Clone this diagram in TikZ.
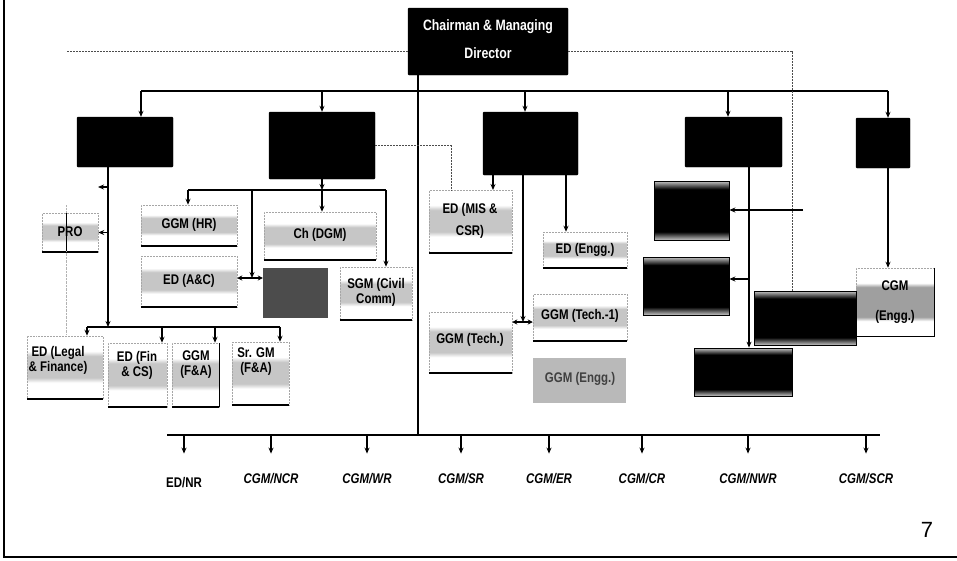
\documentclass[tikz,border=0pt]{standalone}
\usepackage{fontspec}
\setmainfont{Liberation Sans}
\newfontfamily\cf[FakeStretch=0.82]{Liberation Sans}
\usetikzlibrary{arrows.meta,calc}
\pgfdeclareverticalshading{grayband}{100bp}{color(0bp)=(white); color(38bp)=(white); color(42bp)=(gray!45); color(59bp)=(gray!45); color(63bp)=(white); color(100bp)=(white)}
\pgfdeclareverticalshading{blackband}{100bp}{color(0bp)=(gray!45); color(25bp)=(gray!45); color(32bp)=(black); color(68bp)=(black); color(75bp)=(gray!45); color(100bp)=(gray!45)}
\pgfdeclareverticalshading{cgmband}{100bp}{color(0bp)=(white); color(36bp)=(white); color(39bp)=(gray!75); color(61bp)=(gray!75); color(64bp)=(white); color(100bp)=(white)}
\tikzset{
 conn/.style={line width=1.3pt, black},
 arr/.style={conn, -{Stealth[length=6pt,width=5pt]}},
 darr/.style={conn, {Stealth[length=5pt,width=5pt]}-{Stealth[length=5pt,width=5pt]}},
 busline/.style={line width=1.8pt, black},
 dsh/.style={line width=0.6pt, gray!60!black, dash pattern=on 2pt off 1pt},
 tbox/.style={draw=gray!70, densely dotted, line width=0.5pt, shade, shading=grayband, inner sep=0pt},
 cbox/.style={draw=gray!70, densely dotted, line width=0.5pt, shade, shading=cgmband, inner sep=0pt},
 bbox/.style={fill=black, draw=black, inner sep=0pt, rounded corners=1pt},
 bandbox/.style={draw=black, line width=0.8pt, shade, shading=blackband, inner sep=0pt},
 mottle/.style={fill=gray!55, inner sep=0pt},
 darksq/.style={fill=black!70, inner sep=0pt},
 uline/.style={line width=2.4pt, black},
 lbl/.style={font=\cf\bfseries\fontsize{14}{15}\selectfont, align=center, inner sep=0pt, text=black},
 rlab/.style={font=\cf\bfseries\fontsize{14}{15}\selectfont, inner sep=1pt},
 rlabi/.style={font=\cf\bfseries\itshape\fontsize{14}{15}\selectfont, inner sep=1pt},
}
\newcommand\mkbox[6]{\node[#1, minimum width={(#5-#3)*1pt}, minimum height={(#6-#4)*1pt}] (#2) at ({(#3+#5)/2},{(#4+#6)/2}) {};}
\begin{document}
\begin{tikzpicture}[x=1pt,y=-1pt]
\useasboundingbox (0,0) rectangle (957,560);
\fill[white] (0,0) rectangle (957,560);
% frame
\draw[line width=2.5pt] (4,0) -- (4,557) -- (957,557);

% top
\mkbox{bbox}{cmd}{408}{8}{568}{75}
\node[font=\cf\bfseries\fontsize{15}{28}\selectfont, text=white, align=center] (cmdT) at (488,39) {Chairman \& Managing\\Director};
\mkbox{bbox}{bA}{77}{117}{173}{167}
\mkbox{bbox}{bB}{269}{112}{375}{179}
\mkbox{bbox}{bC}{483}{112}{578}{175}
\mkbox{bbox}{bD}{685}{117}{782}{167}
\mkbox{bbox}{bE}{856}{118}{910}{168}

% text boxes
\mkbox{tbox}{pro}{42}{213}{98}{252}
\mkbox{tbox}{ghr}{141}{205}{237}{246}
\mkbox{tbox}{eac}{141}{256}{237}{307}
\mkbox{tbox}{cdgm}{264}{212}{376}{260}
\mkbox{tbox}{sgm}{340}{267}{412}{320}
\mkbox{tbox}{eleg}{27}{336}{103}{399}
\mkbox{tbox}{efin}{108}{343}{167}{407}
\mkbox{tbox}{ggmfa}{172}{343}{219}{407}
\mkbox{tbox}{srgm}{232}{342}{289}{405}
\mkbox{tbox}{mis}{429}{190}{512}{253}
\mkbox{tbox}{ggmt}{429}{312}{512}{373}
\mkbox{tbox}{eeng}{543}{232}{627}{268}
\mkbox{tbox}{ggmt1}{533}{294}{627}{341}
\mkbox{mottle}{gengg}{533}{358}{626}{403}
\mkbox{darksq}{dsq}{263}{268}{328}{318}
\mkbox{cbox}{cgmE}{856}{268}{934}{336}
\mkbox{bandbox}{kA}{654}{181}{729}{240}
\mkbox{bandbox}{kB}{643}{257}{729}{315}
\mkbox{bandbox}{kC}{694}{348}{792}{396}
\mkbox{bandbox}{kD}{754}{291}{856}{345}

\foreach \n in {pro,ghr,eac,cdgm,sgm,eleg,efin,ggmfa,srgm,mis,ggmt,eeng,ggmt1}
  \draw[uline] (\n.south west) -- (\n.south east);
\draw[line width=1.2pt] (ggmfa.north east) -- (ggmfa.south east);
\draw[line width=1.2pt] (cgmE.north east) -- (cgmE.south east) -- (cgmE.south west);
\draw[gray!60, densely dotted] (66,205) -- (66,335);
\draw[line width=0.8pt] (66,213) -- (66,251);

% labels
\node[lbl] (proT) at (70,232) {PRO};
\node[lbl] (ghrT) at (189,225) {GGM (HR)};
\node[lbl] (eacT) at (189,281) {ED (A\&C)};
\node[lbl] (cdgmT) at (320,235) {Ch (DGM)};
\node[lbl] (sgmT) at (376,292) {SGM (Civil\\Comm)};
\node[lbl] (elegT) at (58,360) {ED (Legal\\\& Finance)};
\node[lbl] (efinT) at (137,365) {ED (Fin\\\& CS)};
\node[lbl] (ggmfaT) at (196,365) {GGM\\(F\&A)};
\node[lbl] (srgmT) at (256,362) {Sr. GM\\(F\&A)};
\node[lbl, font=\cf\bfseries\fontsize{14}{22}\selectfont] (misT) at (470,221) {ED (MIS \&\\CSR)};
\node[lbl] (ggmtT) at (470,340) {GGM (Tech.)};
\node[lbl] (eengT) at (585,250) {ED (Engg.)};
\node[lbl] (ggmt1T) at (580,316) {GGM (Tech.-1)};
\node[lbl, text=black!75] (genggT) at (580,379) {GGM (Engg.)};
\node[lbl, font=\cf\bfseries\fontsize{14}{30}\selectfont] (cgmT) at (895,302) {CGM\\(Engg.)};

% main bus
\coordinate (busL) at (141,91);
\coordinate (busR) at (888,91);
\draw[busline] (busL) -- (busR);
\draw[arr] (busL) -- (busL |- bA.north);
\draw[arr] (bB.north |- busL) -- (bB.north);
\coordinate (tC) at (525,91);
\draw[arr] (tC) -- (tC |- bC.north);
\coordinate (tD) at (728,91);
\draw[arr] (tD) -- (tD |- bD.north);
\draw[arr] (busR) -- (busR |- bE.north);

% spine and bottom bus
\coordinate (spine) at (418,435);
\draw[conn] (cmd.south -| spine) -- (spine);
\coordinate (bbL) at (167,435);
\coordinate (bbR) at (880,435);
\draw[busline] (bbL) -- (bbR);

% dashed links
\coordinate (dL) at (67,51);
\coordinate (dR) at (792,51);
\draw[dsh] (dL) -- (cmd.west |- dL);
\draw[dsh] (cmd.east |- dL) -- (dR) -- (dR |- kD.north);
\coordinate (dM) at (451,190);
\draw[dsh] (bB.east) -| (dM);

% box A subtree
\coordinate (v1) at (108,327);
\draw[arr] (bA.south -| v1) -- (v1);
\coordinate (b2L) at (87,327);
\coordinate (b2R) at (280,327);
\draw[conn] (b2L) -- (b2R);
\coordinate (pa) at (98,187);
\draw[arr] (v1 |- pa) -- (pa);
\draw[arr] (v1 |- pro.east) -- (pro.east);
\draw[arr] (b2L) -- (b2L |- eleg.north);
\coordinate (f2) at (162,327);
\draw[arr] (f2) -- (f2 |- efin.north);
\coordinate (f3) at (215,327);
\draw[arr] (f3) -- (f3 |- ggmfa.north);
\draw[arr] (b2R) -- (b2R |- srgm.north);

% box B subtree
\coordinate (b3L) at (188,190);
\coordinate (b3R) at (386,190);
\draw[arr] (bB.south) -- (bB.south |- b3L);
\draw[conn] (b3L) -- (b3R);
\draw[arr] (b3L) -- (b3L |- ghr.north);
\draw[arr] (bB.south |- b3L) -- (bB.south |- cdgm.north);
\draw[arr] (b3R) -- (b3R |- sgm.north);
\coordinate (jA) at (252,278);
\draw[arr] (jA |- b3L) -- (jA);
\draw[darr] (eac.east |- jA) -- (dsq.west |- jA);

% box C subtree
\coordinate (m1) at (493,190);
\draw[arr] (m1 |- bC.south) -- (m1);
\coordinate (jT) at (523,322);
\draw[arr] (jT |- bC.south) -- (jT);
\draw[darr] (ggmt.east |- jT) -- (ggmt1.west |- jT);
\coordinate (m3) at (566,232);
\draw[arr] (m3 |- bC.south) -- (m3 |- eeng.north);

% box D subtree
\coordinate (v4) at (749,348);
\draw[arr] (v4 |- bD.south) -- (v4 |- kC.north);
\coordinate (jB) at (749,279);
\draw[arr] (jB) -- (kB.east |- jB);
\coordinate (aR) at (803,210);
\draw[arr] (aR) -- (kA.east |- aR);

% box E subtree
\draw[arr] (busR |- bE.south) -- (busR |- cgmE.north);

% regions
\node[rlab] (r1) at (184,483) {ED/NR};
\node[rlabi] (r2) at (271,479) {CGM/NCR};
\node[rlabi] (r3) at (367,479) {CGM/WR};
\node[rlabi] (r4) at (461,479) {CGM/SR};
\node[rlabi] (r5) at (549,479) {CGM/ER};
\node[rlabi] (r6) at (642,479) {CGM/CR};
\node[rlabi] (r7) at (748,479) {CGM/NWR};
\node[rlabi] (r8) at (866,479) {CGM/SCR};
\foreach \r in {r2,r3,r4,r5,r6,r7,r8}
  \draw[arr] (\r.north |- bbL) -- ([yshift=19pt]\r.north);
\draw[arr] (r1.north |- bbL) -- ([yshift=23pt]r1.north);

\node[font=\fontsize{22}{24}\selectfont] (pg) at (927,530) {7};
\end{tikzpicture}
\end{document}
